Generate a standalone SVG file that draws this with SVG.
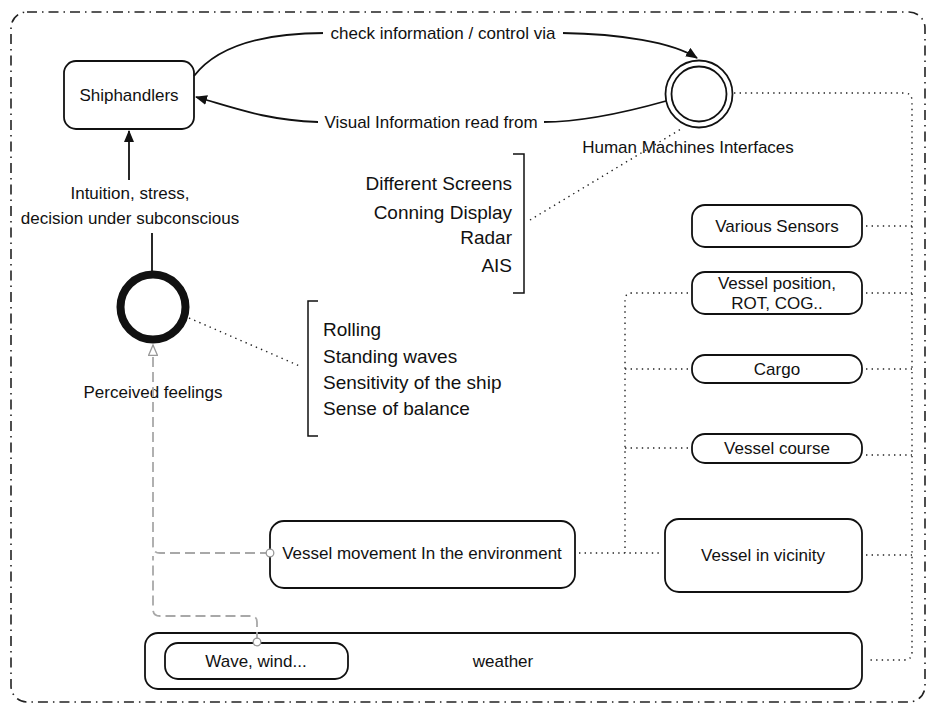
<svg xmlns="http://www.w3.org/2000/svg" width="933" height="709" viewBox="0 0 933 709">
  <defs>
    <marker id="arrowFill" viewBox="0 0 12 10" refX="11" refY="5" markerWidth="12" markerHeight="10" markerUnits="userSpaceOnUse" orient="auto">
      <path d="M0,0 L12,5 L0,10 Z" fill="#111"/>
    </marker>
    <marker id="arrowHollow" viewBox="0 0 12 10" refX="11" refY="5" markerWidth="12" markerHeight="10" markerUnits="userSpaceOnUse" orient="auto">
      <path d="M0.5,0.5 L11,5 L0.5,9.5 Z" fill="#fff" stroke="#999" stroke-width="1.3"/>
    </marker>
    <marker id="ballEnd" viewBox="0 0 10 10" refX="5" refY="5" markerWidth="10" markerHeight="10" markerUnits="userSpaceOnUse">
      <circle cx="5" cy="5" r="3.8" fill="#fff" stroke="#999" stroke-width="1.3"/>
    </marker>
  </defs>
  <style>
    text { font-family: "Liberation Sans", Arial, sans-serif; fill: #111; }
    .lbl { font-size: 17px; }
    .big { font-size: 19px; }
    .box { fill: #fff; stroke: #111; stroke-width: 1.8; }
    .solid { fill: none; stroke: #111; stroke-width: 1.8; }
    .dot { fill: none; stroke: #222; stroke-width: 1.4; stroke-dasharray: 1.4 4.2; }
    .grey { fill: none; stroke: #a8a8a8; stroke-width: 1.8; stroke-dasharray: 10 5; }
    .frame { fill: none; stroke: #222; stroke-width: 1.6; stroke-dasharray: 10 5 1.5 5; }
    .bracket { fill: none; stroke: #111; stroke-width: 1.5; }
  </style>

  <rect width="933" height="709" fill="#fff"/>

  <!-- outer boundary -->
  <rect class="frame" x="11" y="12" width="914" height="690" rx="16"/>

  <!-- nodes -->
  <g id="shiphandlers">
    <rect class="box" x="64" y="61" width="130" height="68" rx="12"/>
    <text class="lbl" x="129" y="101" text-anchor="middle">Shiphandlers</text>
  </g>

  <g id="hmi">
    <circle cx="699" cy="94" r="33.5" fill="#fff" stroke="#111" stroke-width="1.8"/>
    <circle cx="699" cy="94" r="27.5" fill="none" stroke="#111" stroke-width="1.8"/>
    <text class="lbl" x="688" y="153" text-anchor="middle">Human Machines Interfaces</text>
  </g>

  <g id="screens">
    <path class="bracket" d="M513,154 L524,154 L524,293 L513,293"/>
    <text class="big" x="512" y="190" text-anchor="end">Different Screens</text>
    <text class="big" x="512" y="219" text-anchor="end">Conning Display</text>
    <text class="big" x="512" y="244" text-anchor="end">Radar</text>
    <text class="big" x="512" y="272" text-anchor="end">AIS</text>
  </g>

  <g id="feelings">
    <circle cx="153" cy="307" r="32.5" fill="#fff" stroke="#111" stroke-width="8"/>
    <text class="lbl" x="153" y="398" text-anchor="middle">Perceived feelings</text>
  </g>

  <g id="sensations">
    <path class="bracket" d="M318,301 L308,301 L308,436 L318,436"/>
    <text class="big" x="323" y="336">Rolling</text>
    <text class="big" x="323" y="363">Standing waves</text>
    <text class="big" x="323" y="389">Sensitivity of the ship</text>
    <text class="big" x="323" y="415">Sense of balance</text>
  </g>

  <g id="various-sensors">
    <rect class="box" x="692" y="205" width="170" height="42" rx="13"/>
    <text class="lbl" x="777" y="232" text-anchor="middle">Various Sensors</text>
  </g>

  <g id="vessel-position">
    <rect class="box" x="692" y="272" width="170" height="42" rx="13"/>
    <text class="lbl" x="777" y="289" text-anchor="middle">Vessel position,</text>
    <text class="lbl" x="777" y="309" text-anchor="middle">ROT, COG..</text>
  </g>

  <g id="cargo">
    <rect class="box" x="692" y="355" width="170" height="28" rx="13"/>
    <text class="lbl" x="777" y="375" text-anchor="middle">Cargo</text>
  </g>

  <g id="vessel-course">
    <rect class="box" x="692" y="434" width="170" height="29" rx="13"/>
    <text class="lbl" x="777" y="454" text-anchor="middle">Vessel course</text>
  </g>

  <g id="vessel-movement">
    <rect class="box" x="270" y="521" width="305" height="67" rx="14"/>
    <text class="lbl" x="422" y="559" text-anchor="middle">Vessel movement In the environment</text>
  </g>

  <g id="vessel-vicinity">
    <rect class="box" x="665" y="519" width="197" height="73" rx="14"/>
    <text class="lbl" x="763" y="561" text-anchor="middle">Vessel in vicinity</text>
  </g>

  <g id="weather">
    <rect class="box" x="145" y="633" width="717" height="56" rx="13"/>
    <text class="lbl" x="503" y="667" text-anchor="middle">weather</text>
  </g>

  <g id="wave-wind">
    <rect class="box" x="165" y="643" width="183" height="36" rx="13"/>
    <text class="lbl" x="256" y="667" text-anchor="middle">Wave, wind...</text>
  </g>

  <!-- connectors -->
  <g id="connectors">
    <!-- Shiphandlers -> HMI -->
    <path class="solid" d="M194,76 C220,42 275,33 325,33 L562,33 C620,34 672,42 697,58" marker-end="url(#arrowFill)"/>
    <rect x="323" y="22" width="240" height="22" fill="#fff"/>
    <text class="lbl" x="443" y="39" text-anchor="middle">check information / control via</text>
    <!-- HMI -> Shiphandlers -->
    <path class="solid" d="M666,101 C620,114 580,122 543,122 L318,122 C265,120 235,108 196,97" marker-end="url(#arrowFill)"/>
    <rect x="318" y="111" width="226" height="22" fill="#fff"/>
    <text class="lbl" x="431" y="128" text-anchor="middle">Visual Information read from</text>

    <!-- feelings -> Shiphandlers -->
    <path class="solid" d="M152,271 L152,233"/>
    <path class="solid" d="M129,180 L129,131" marker-end="url(#arrowFill)"/>
    <text class="lbl" x="130" y="199" text-anchor="middle">Intuition, stress,</text>
    <text class="lbl" x="130" y="224" text-anchor="middle">decision under subconscious</text>

    <!-- annotation links -->
    <path class="dot" d="M530,220 L681,129"/>
    <path class="dot" d="M189,318 L302,367"/>

    <!-- grey dashed inputs to perceived feelings -->
    <path class="grey" d="M270,553 L160,553 Q153,553 153,546 L153,345" marker-start="url(#ballEnd)" marker-end="url(#arrowHollow)"/>
    <path class="grey" d="M257,642 L257,622 Q257,616 251,616 L160,616 Q153,616 153,609 L153,556" marker-start="url(#ballEnd)"/>

    <!-- right dotted bus -->
    <path class="dot" d="M734,93 L904,93 Q912,93 912,101 L912,652 Q912,660 904,660 L868,660"/>
    <path class="dot" d="M866,226 L912,226"/>
    <path class="dot" d="M866,293 L912,293"/>
    <path class="dot" d="M866,369 L912,369"/>
    <path class="dot" d="M866,455 L912,455"/>
    <path class="dot" d="M866,555 L912,555"/>

    <!-- left dotted bus -->
    <path class="dot" d="M688,293 L632,293 Q625,293 625,300 L625,553"/>
    <path class="dot" d="M625,369 L688,369"/>
    <path class="dot" d="M625,448 L688,448"/>
    <path class="dot" d="M579,553 L661,553"/>
  </g>
</svg>
